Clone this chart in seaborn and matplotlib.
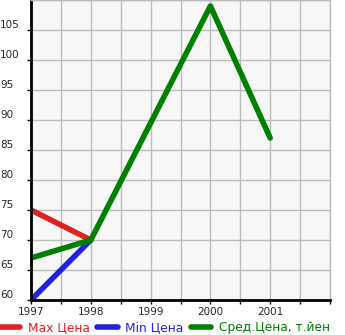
import numpy as np
import pandas as pd
import matplotlib
matplotlib.use("Agg")
import matplotlib.pyplot as plt
import seaborn as sns
from matplotlib.ticker import MultipleLocator
from matplotlib.lines import Line2D

years_max = [1997, 1998]
max_price = [75, 70]
years_min = [1997, 1998]
min_price = [60, 70]
years_avg = [1997, 1998, 1999, 2000, 2001]
avg_price = [67, 70, 89.5, 109, 87]
series_names = ["Max Цена", "Min Цена", "Сред.Цена, т.йен"]
colors = ["#dd2222", "#2222dd", "#008000"]
y_ticks = [60, 65, 70, 75, 80, 85, 90, 95, 100, 105]
x_ticks = [1997, 1998, 1999, 2000, 2001]

df = pd.concat([
    pd.DataFrame({"year": years_max, "price": max_price, "series": series_names[0]}),
    pd.DataFrame({"year": years_min, "price": min_price, "series": series_names[1]}),
    pd.DataFrame({"year": years_avg, "price": avg_price, "series": series_names[2]}),
])

sns.set_style("white")
plt.rcParams['font.family'] = ['DejaVu Sans']

fig = plt.figure(figsize=(3.45, 3.35), dpi=100)
ax = fig.add_axes([31/345, 35/335, 299/345, 300/335])
ax.set_facecolor("#f7f7f7")

sns.lineplot(data=df, x="year", y="price", hue="series", palette=colors,
             hue_order=series_names, linewidth=4, ax=ax, legend=False,
             solid_capstyle="round")

ax.set_xlim(1997, 2002)
ax.set_ylim(60, 110)
ax.set_xticks(x_ticks)
ax.set_xticklabels([str(x) for x in x_ticks])
ax.xaxis.set_minor_locator(MultipleLocator(0.5))
ax.set_yticks(y_ticks)
ax.set_yticklabels([str(y) for y in y_ticks])
ax.grid(True, which="both", axis="x", color="#bbbbbb", linewidth=1)
ax.grid(True, which="major", axis="y", color="#bbbbbb", linewidth=1)
ax.set_yticks([110], minor=True)
ax.grid(True, which="minor", axis="y", color="#bbbbbb", linewidth=1)
ax.set_axisbelow(True)
ax.set_xlabel("")
ax.set_ylabel("")

for s in ["top", "right"]:
    ax.spines[s].set_color("#bbbbbb")
    ax.spines[s].set_linewidth(1)
for s in ["left", "bottom"]:
    ax.spines[s].set_color("black")
    ax.spines[s].set_linewidth(2)

ax.tick_params(axis="y", which="major", direction="out", length=3, width=1,
               color="black", labelsize=7.5, pad=19.3, left=True)
ax.tick_params(axis="y", which="minor", length=0)
for lbl in ax.get_yticklabels():
    lbl.set_horizontalalignment("left")
    lbl.set_verticalalignment("bottom")
ax.tick_params(axis="x", which="both", direction="out", length=3, width=1,
               color="black", labelsize=7.5, pad=2, bottom=True)

handles = [Line2D([0], [0], color=c, linewidth=4, solid_capstyle="round") for c in colors]
leg = fig.legend(handles, series_names, loc="lower left", bbox_to_anchor=(-0.005, 0.0),
                 ncol=3, frameon=False, fontsize=8.8, handlelength=1.7,
                 handletextpad=0.6, columnspacing=0.6, borderpad=0.1,
                 borderaxespad=0.0)
for t, c in zip(leg.get_texts(), colors):
    t.set_color(c)

fig.savefig("out.png", dpi=100)
